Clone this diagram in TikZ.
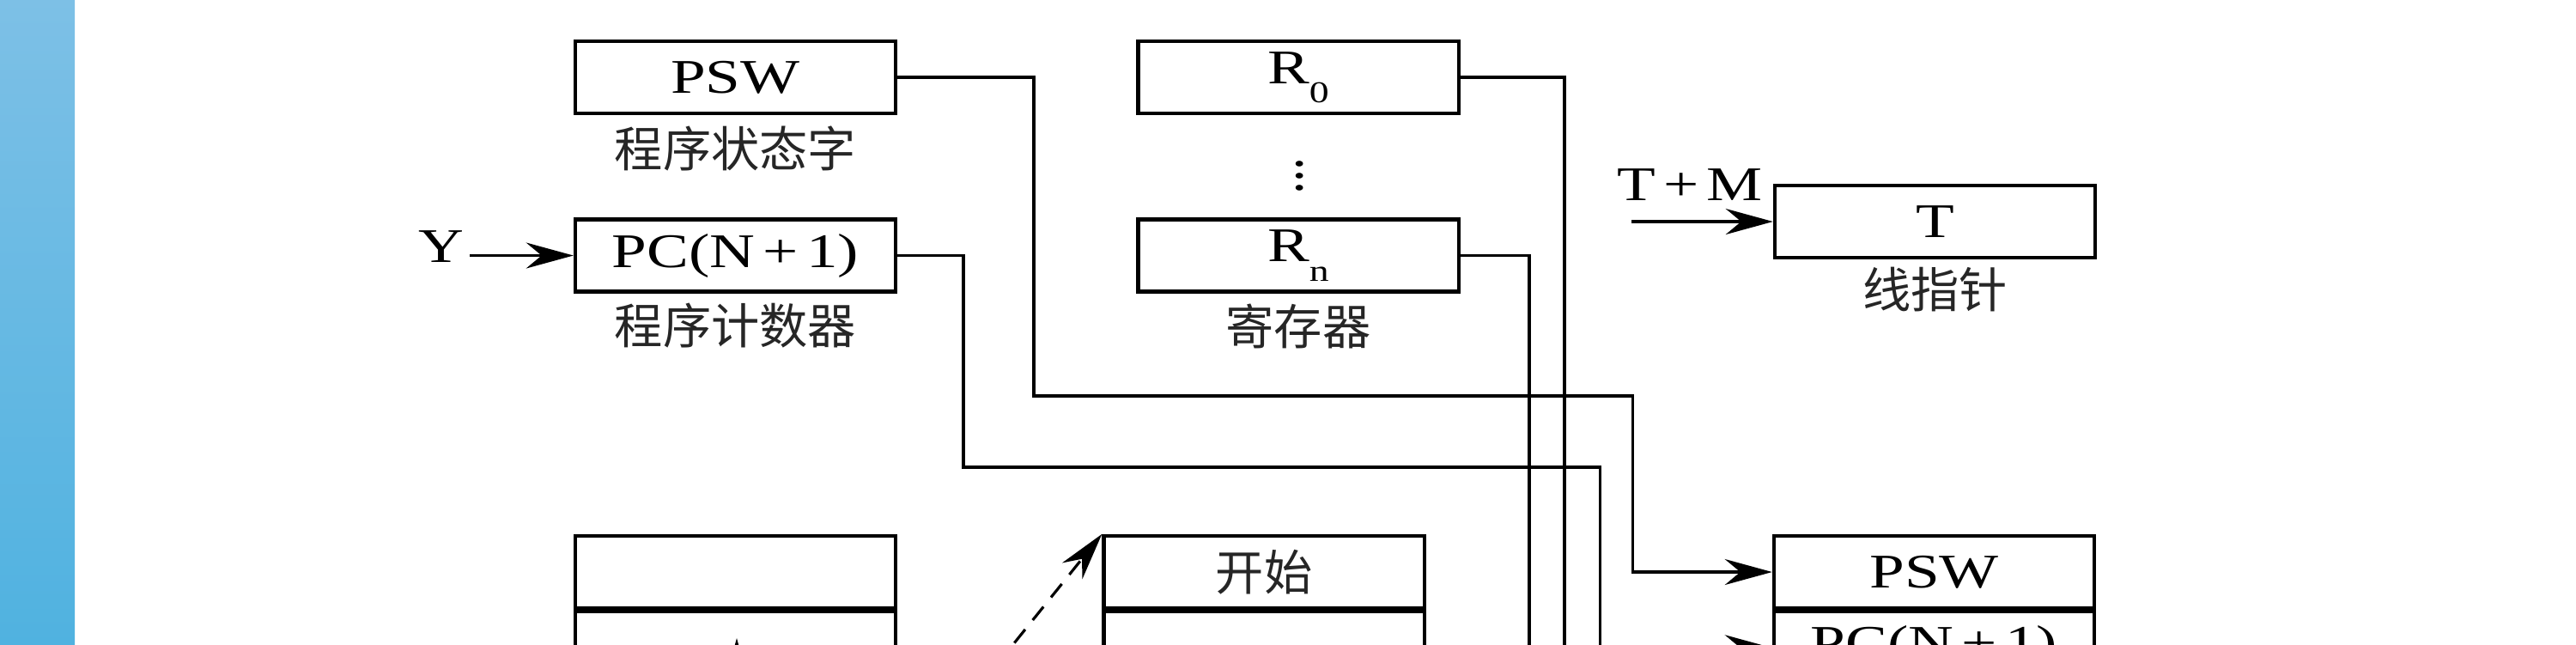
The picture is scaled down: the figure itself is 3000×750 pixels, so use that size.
\documentclass[tikz,border=0pt]{standalone}
\usepackage{fontspec}
\setmainfont{Liberation Serif}[FakeStretch=1.3]
\newfontfamily\cjk{Noto Sans CJK SC}
\usepackage{tikz}
\usetikzlibrary{arrows.meta, positioning}
\definecolor{striptop}{RGB}{125,192,230}
\definecolor{stripmid}{RGB}{58,164,214}
\definecolor{stripbot}{RGB}{80,178,224}
\tikzstyle{arrow} = [line width=0.9pt,-{Stealth[length=5.5mm,width=3mm,inset=1.8mm]}]
\tikzstyle{reg} = [rectangle, draw=black, line width=1.2pt, minimum width=3.73cm, minimum height=0.84cm, inner sep=0pt, font=\fontsize{16}{19}\selectfont]
\tikzstyle{cnlabel} = [inner sep=0pt, text=black!85, font=\fontsize{16}{19}\selectfont\cjk]
\tikzstyle{plain} = [inner sep=0pt, font=\fontsize{16}{19}\selectfont]
\newcommand{\regsub}[1]{\raisebox{-0.4em}{\fontsize{10}{12}\selectfont #1}}

\begin{document}
\begin{tikzpicture}[x=0.01cm, y=-0.01cm]
\useasboundingbox (0,0) rectangle (3000,750);
\clip (0,0) rectangle (3000,750);
\shade[top color=striptop, middle color=stripmid, bottom color=stripbot] (0,0) rectangle (87,750);

% program status word and program counter
\node[reg] (psw) at (856.5,90) {PSW};
\node[cnlabel, below=0.12cm of psw] (pswname) {程序状态字};
\node[reg] (pc) at (856.5,297.5) {PC(N\,+\,1)};
\node[cnlabel, below=0.11cm of pc] (pcname) {程序计数器};
\node[plain] (ylab) at (514,287) {Y};
\coordinate (ystart) at (547,297.5);
\draw[arrow] (ystart) -- (pc.west);

% registers
\node[reg] (rzero) at (1512,90) {R\regsub{0}};
\node[plain] (dots) at (1514,194) {$\vdots$};
\node[reg] (rn) at (1512,297.5) {R\regsub{n}};
\node[cnlabel, below=0.12cm of rn] (regname) {寄存器};

% stack pointer
\node[reg] (tptr) at (2253.5,258) {T};
\node[cnlabel, below=0.08cm of tptr] (tname) {线指针};
\node[plain] (tmlab) at (1968,215) {T\,+\,M};
\coordinate (tmstart) at (1900,258);
\draw[arrow] (tmstart) -- (tptr.west);

% stacks at the bottom
\node[reg] (stackA) at (856.5,666) {};
\node[reg, below=0pt of stackA] (stackB) {};
\node[reg] (start) at (1472,666) {\cjk\color{black!85}开始};
\node[reg, below=0pt of start] (startB) {};
\node[reg] (spsw) at (2252.5,666) {PSW};
\node[reg, below=0pt of spsw] (spc) {PC(N\,+\,1)};

% connectors
\draw[arrow] (psw.east) -| (1204,461) -| ([xshift=-1.62cm]spsw.west) -- (spsw.west);
\draw[arrow] (pc.east) -| (1122,544) -| ([xshift=-2cm]spc.west) -- (spc.west);
\coordinate (rzeroend) at (1822,800);
\coordinate (rnend) at (1781,800);
\draw[line width=0.9pt] (rzero.east) -| (rzeroend);
\draw[line width=0.9pt] (rn.east) -| (rnend);
\coordinate (dashstart) at (1160,775);
\draw[arrow, dash pattern=on 2mm off 1.4mm] (dashstart) -- (start.north west);
\coordinate (upstart) at (858,830);
\coordinate (uptip) at (858,743);
\draw[arrow] (upstart) -- (uptip);

\end{tikzpicture}
\end{document}
